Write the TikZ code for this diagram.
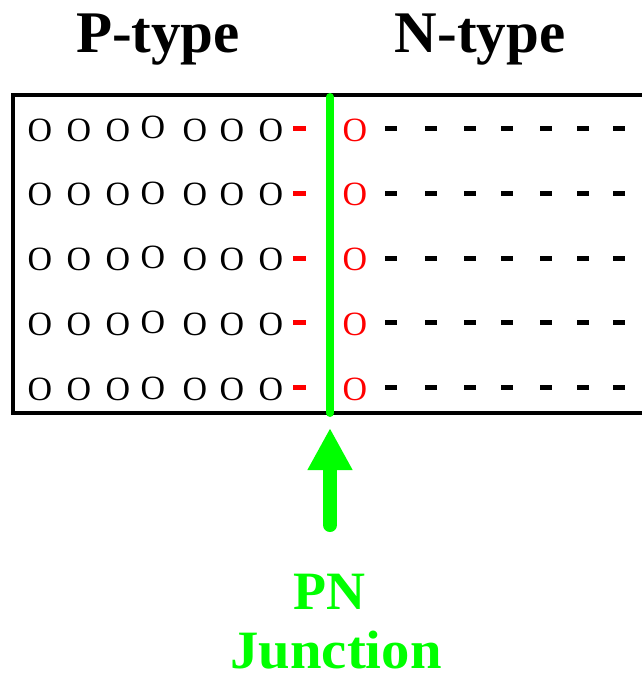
\documentclass[tikz,border=0pt]{standalone}
\usepackage{fontspec}
\setmainfont{Liberation Serif}
\usetikzlibrary{arrows.meta}
\definecolor{jgreen}{RGB}{0,255,0}
\definecolor{jred}{RGB}{255,0,0}
\tikzset{
  heading/.style={anchor=base, inner sep=0pt, font=\fontsize{59}{60}\selectfont\bfseries},
  hole/.style={inner sep=0pt, font=\fontsize{34}{34}\selectfont},
  dashbox/.style={rectangle, fill=black, minimum width=12pt, minimum height=5pt, inner sep=0pt},
  reddash/.style={dashbox, fill=jred, minimum width=13pt},
  junction/.style={draw=jgreen, line width=8pt, line cap=round},
  jlabel/.style={anchor=base, inner sep=0pt, text=jgreen, font=\fontsize{54}{54}\selectfont\bfseries},
}
\begin{document}
\begin{tikzpicture}[x=1pt, y=-1pt]
\useasboundingbox (0,0) rectangle (641,679);
% headings
\node[heading] (ptype) at (158,53) {P-type};
\node[heading] (ntype) at (480,53) {N-type};
% box
\draw[line width=4pt] (650,95) -| (13,413) -- (650,413);
% rows
\foreach \r/\lift in {1/2.5,2/1,3/2.5,4/1.5,5/1}{
  \pgfmathsetmacro{\yy}{130+64.75*(\r-1)}
  \foreach \xx [count=\c] in {40,79,118,153,195,232,271}{
    \ifnum\c=4
      \node[hole] (o-\r-\c) at (\xx,\yy-\lift) {O};
    \else
      \node[hole] (o-\r-\c) at (\xx,\yy) {O};
    \fi
  }
  \node[reddash] (rd-\r) at (299,\yy-1.5) {};
  \node[hole, text=jred] (ro-\r) at (355,\yy) {O};
  \foreach \xx [count=\c] in {391,431,470,507,546,583,619}{
    \node[dashbox] (d-\r-\c) at (\xx,\yy-1.5) {};
  }
}
% junction line
\coordinate (jtop) at (330,97);
\coordinate (jbot) at (330,413);
\draw[junction] (jtop) -- (jbot);
% arrow
\coordinate (atail) at (330,525);
\coordinate (ahead) at (330,428);
\draw[draw=jgreen, line width=14pt, line cap=round, -{Triangle[width=42pt,length=42pt]}] (atail) -- (ahead);
% label
\node[jlabel] (pn) at (329,609) {PN};
\node[jlabel] (junc) at (336,668) {\scalebox{1.05}[1]{Junction}};
\end{tikzpicture}
\end{document}
